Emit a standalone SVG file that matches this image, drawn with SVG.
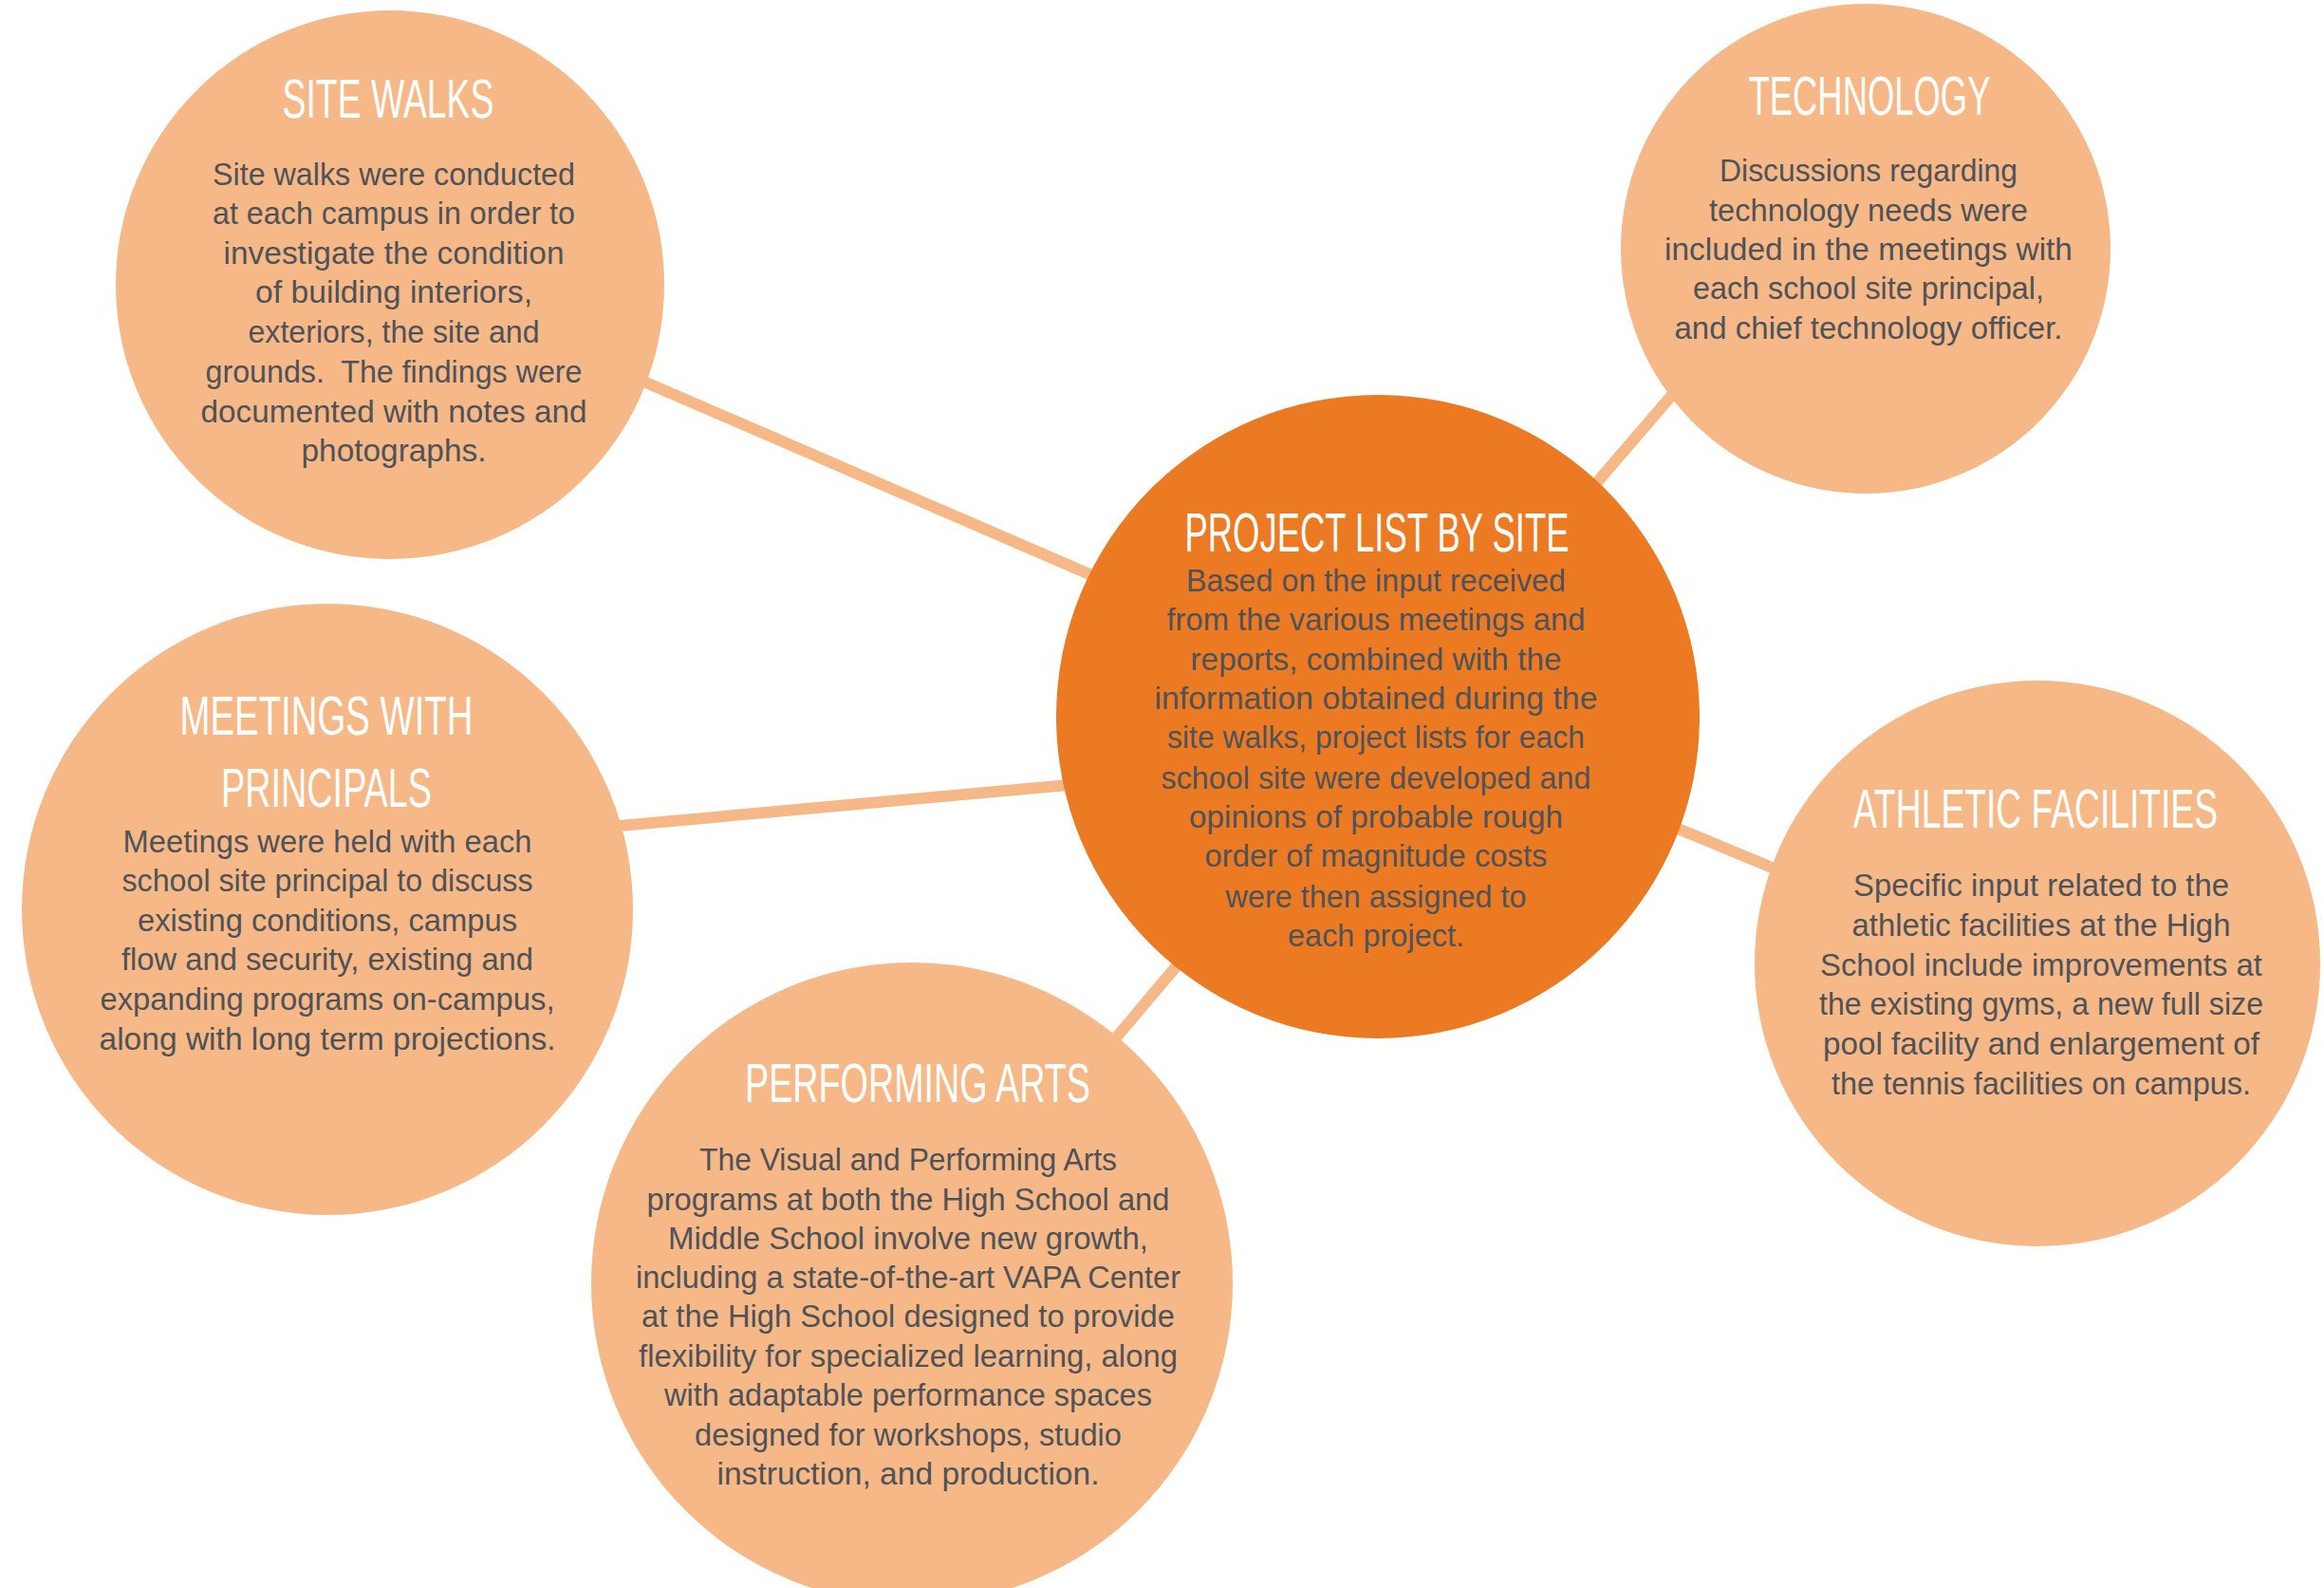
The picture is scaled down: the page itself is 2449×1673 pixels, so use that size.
<svg xmlns="http://www.w3.org/2000/svg" width="2449" height="1673" viewBox="0 0 2449 1673">
<style>
.bg{fill:#ffffff}
.light{fill:#F6B886}
.main{fill:#EC7A23}
.conn{stroke:#F6B886;stroke-width:12;stroke-linecap:butt;fill:none}
.title{font-family:'Liberation Sans',Arial,sans-serif;font-size:58px;fill:#ffffff;text-anchor:middle}
.body{font-family:'Liberation Sans',Arial,sans-serif;font-size:33px;fill:#4E5359;text-anchor:middle}
</style>
<rect class="bg" x="0" y="0" width="2449" height="1673"/>
<g id="connectors">
  <line class="conn" x1="637" y1="384" x2="1192" y2="624"/>
  <line class="conn" x1="620" y1="873" x2="1170" y2="823"/>
  <line class="conn" x1="1640" y1="558" x2="1800" y2="372"/>
  <line class="conn" x1="1140" y1="1136" x2="1270" y2="982"/>
  <line class="conn" x1="1720" y1="853" x2="1920" y2="936"/>
</g>
<g id="site-walks">
  <circle class="light" cx="411" cy="300" r="289"/>
  <text class="title" x="409" y="124" textLength="223" lengthAdjust="spacingAndGlyphs">SITE WALKS</text>
  <text class="body" x="415" y="195" textLength="382" lengthAdjust="spacingAndGlyphs">Site walks were conducted</text>
  <text class="body" x="415" y="236" textLength="382" lengthAdjust="spacingAndGlyphs">at each campus in order to</text>
  <text class="body" x="415" y="278" textLength="359" lengthAdjust="spacingAndGlyphs">investigate the condition</text>
  <text class="body" x="415" y="319" textLength="292" lengthAdjust="spacingAndGlyphs">of building interiors,</text>
  <text class="body" x="415" y="361" textLength="307" lengthAdjust="spacingAndGlyphs">exteriors, the site and</text>
  <text class="body" x="415" y="403" textLength="397" lengthAdjust="spacingAndGlyphs" xml:space="preserve">grounds.  The findings were</text>
  <text class="body" x="415" y="445" textLength="407" lengthAdjust="spacingAndGlyphs">documented with notes and</text>
  <text class="body" x="415" y="486" textLength="195" lengthAdjust="spacingAndGlyphs">photographs.</text>
</g>
<g id="technology">
  <circle class="light" cx="1966" cy="262" r="258"/>
  <text class="title" x="1970" y="121" textLength="255" lengthAdjust="spacingAndGlyphs">TECHNOLOGY</text>
  <text class="body" x="1969" y="191" textLength="314" lengthAdjust="spacingAndGlyphs">Discussions regarding</text>
  <text class="body" x="1969" y="233" textLength="336" lengthAdjust="spacingAndGlyphs">technology needs were</text>
  <text class="body" x="1969" y="274" textLength="430" lengthAdjust="spacingAndGlyphs">included in the meetings with</text>
  <text class="body" x="1969" y="315" textLength="370" lengthAdjust="spacingAndGlyphs">each school site principal,</text>
  <text class="body" x="1969" y="357" textLength="409" lengthAdjust="spacingAndGlyphs">and chief technology officer.</text>
</g>
<g id="project-list">
  <circle class="main" cx="1452" cy="755" r="339"/>
  <text class="title" x="1451" y="581" textLength="405" lengthAdjust="spacingAndGlyphs">PROJECT LIST BY SITE</text>
  <text class="body" x="1450" y="623" textLength="400" lengthAdjust="spacingAndGlyphs">Based on the input received</text>
  <text class="body" x="1450" y="664" textLength="441" lengthAdjust="spacingAndGlyphs">from the various meetings and</text>
  <text class="body" x="1450" y="706" textLength="391" lengthAdjust="spacingAndGlyphs">reports, combined with the</text>
  <text class="body" x="1450" y="747" textLength="467" lengthAdjust="spacingAndGlyphs">information obtained during the</text>
  <text class="body" x="1450" y="788" textLength="440" lengthAdjust="spacingAndGlyphs">site walks, project lists for each</text>
  <text class="body" x="1450" y="831" textLength="453" lengthAdjust="spacingAndGlyphs">school site were developed and</text>
  <text class="body" x="1450" y="872" textLength="394" lengthAdjust="spacingAndGlyphs">opinions of probable rough</text>
  <text class="body" x="1450" y="913" textLength="361" lengthAdjust="spacingAndGlyphs">order of magnitude costs</text>
  <text class="body" x="1450" y="956" textLength="317" lengthAdjust="spacingAndGlyphs">were then assigned to</text>
  <text class="body" x="1450" y="997" textLength="186" lengthAdjust="spacingAndGlyphs">each project.</text>
</g>
<g id="meetings">
  <circle class="light" cx="345" cy="958" r="322"/>
  <text class="title" x="344" y="774" textLength="309" lengthAdjust="spacingAndGlyphs">MEETINGS WITH</text>
  <text class="title" x="344" y="850" textLength="222" lengthAdjust="spacingAndGlyphs">PRINCIPALS</text>
  <text class="body" x="345" y="898" textLength="431" lengthAdjust="spacingAndGlyphs">Meetings were held with each</text>
  <text class="body" x="345" y="939" textLength="433" lengthAdjust="spacingAndGlyphs">school site principal to discuss</text>
  <text class="body" x="345" y="981" textLength="400" lengthAdjust="spacingAndGlyphs">existing conditions, campus</text>
  <text class="body" x="345" y="1022" textLength="434" lengthAdjust="spacingAndGlyphs">flow and security, existing and</text>
  <text class="body" x="345" y="1064" textLength="479" lengthAdjust="spacingAndGlyphs">expanding programs on-campus,</text>
  <text class="body" x="345" y="1106" textLength="481" lengthAdjust="spacingAndGlyphs">along with long term projections.</text>
</g>
<g id="performing-arts">
  <circle class="light" cx="961" cy="1352" r="338"/>
  <text class="title" x="967" y="1161" textLength="364" lengthAdjust="spacingAndGlyphs">PERFORMING ARTS</text>
  <text class="body" x="957" y="1233" textLength="440" lengthAdjust="spacingAndGlyphs">The Visual and Performing Arts</text>
  <text class="body" x="957" y="1275" textLength="551" lengthAdjust="spacingAndGlyphs">programs at both the High School and</text>
  <text class="body" x="957" y="1316" textLength="506" lengthAdjust="spacingAndGlyphs">Middle School involve new growth,</text>
  <text class="body" x="957" y="1357" textLength="574" lengthAdjust="spacingAndGlyphs">including a state-of-the-art VAPA Center</text>
  <text class="body" x="957" y="1398" textLength="562" lengthAdjust="spacingAndGlyphs">at the High School designed to provide</text>
  <text class="body" x="957" y="1440" textLength="568" lengthAdjust="spacingAndGlyphs">flexibility for specialized learning, along</text>
  <text class="body" x="957" y="1481" textLength="514" lengthAdjust="spacingAndGlyphs">with adaptable performance spaces</text>
  <text class="body" x="957" y="1523" textLength="450" lengthAdjust="spacingAndGlyphs">designed for workshops, studio</text>
  <text class="body" x="957" y="1564" textLength="403" lengthAdjust="spacingAndGlyphs">instruction, and production.</text>
</g>
<g id="athletic-facilities">
  <circle class="light" cx="2147" cy="1015" r="298"/>
  <text class="title" x="2145" y="872" textLength="384" lengthAdjust="spacingAndGlyphs">ATHLETIC FACILITIES</text>
  <text class="body" x="2151" y="944" textLength="396" lengthAdjust="spacingAndGlyphs">Specific input related to the</text>
  <text class="body" x="2151" y="986" textLength="399" lengthAdjust="spacingAndGlyphs">athletic facilities at the High</text>
  <text class="body" x="2151" y="1028" textLength="466" lengthAdjust="spacingAndGlyphs">School include improvements at</text>
  <text class="body" x="2151" y="1069" textLength="468" lengthAdjust="spacingAndGlyphs">the existing gyms, a new full size</text>
  <text class="body" x="2151" y="1111" textLength="460" lengthAdjust="spacingAndGlyphs">pool facility and enlargement of</text>
  <text class="body" x="2151" y="1153" textLength="442" lengthAdjust="spacingAndGlyphs">the tennis facilities on campus.</text>
</g>
</svg>
